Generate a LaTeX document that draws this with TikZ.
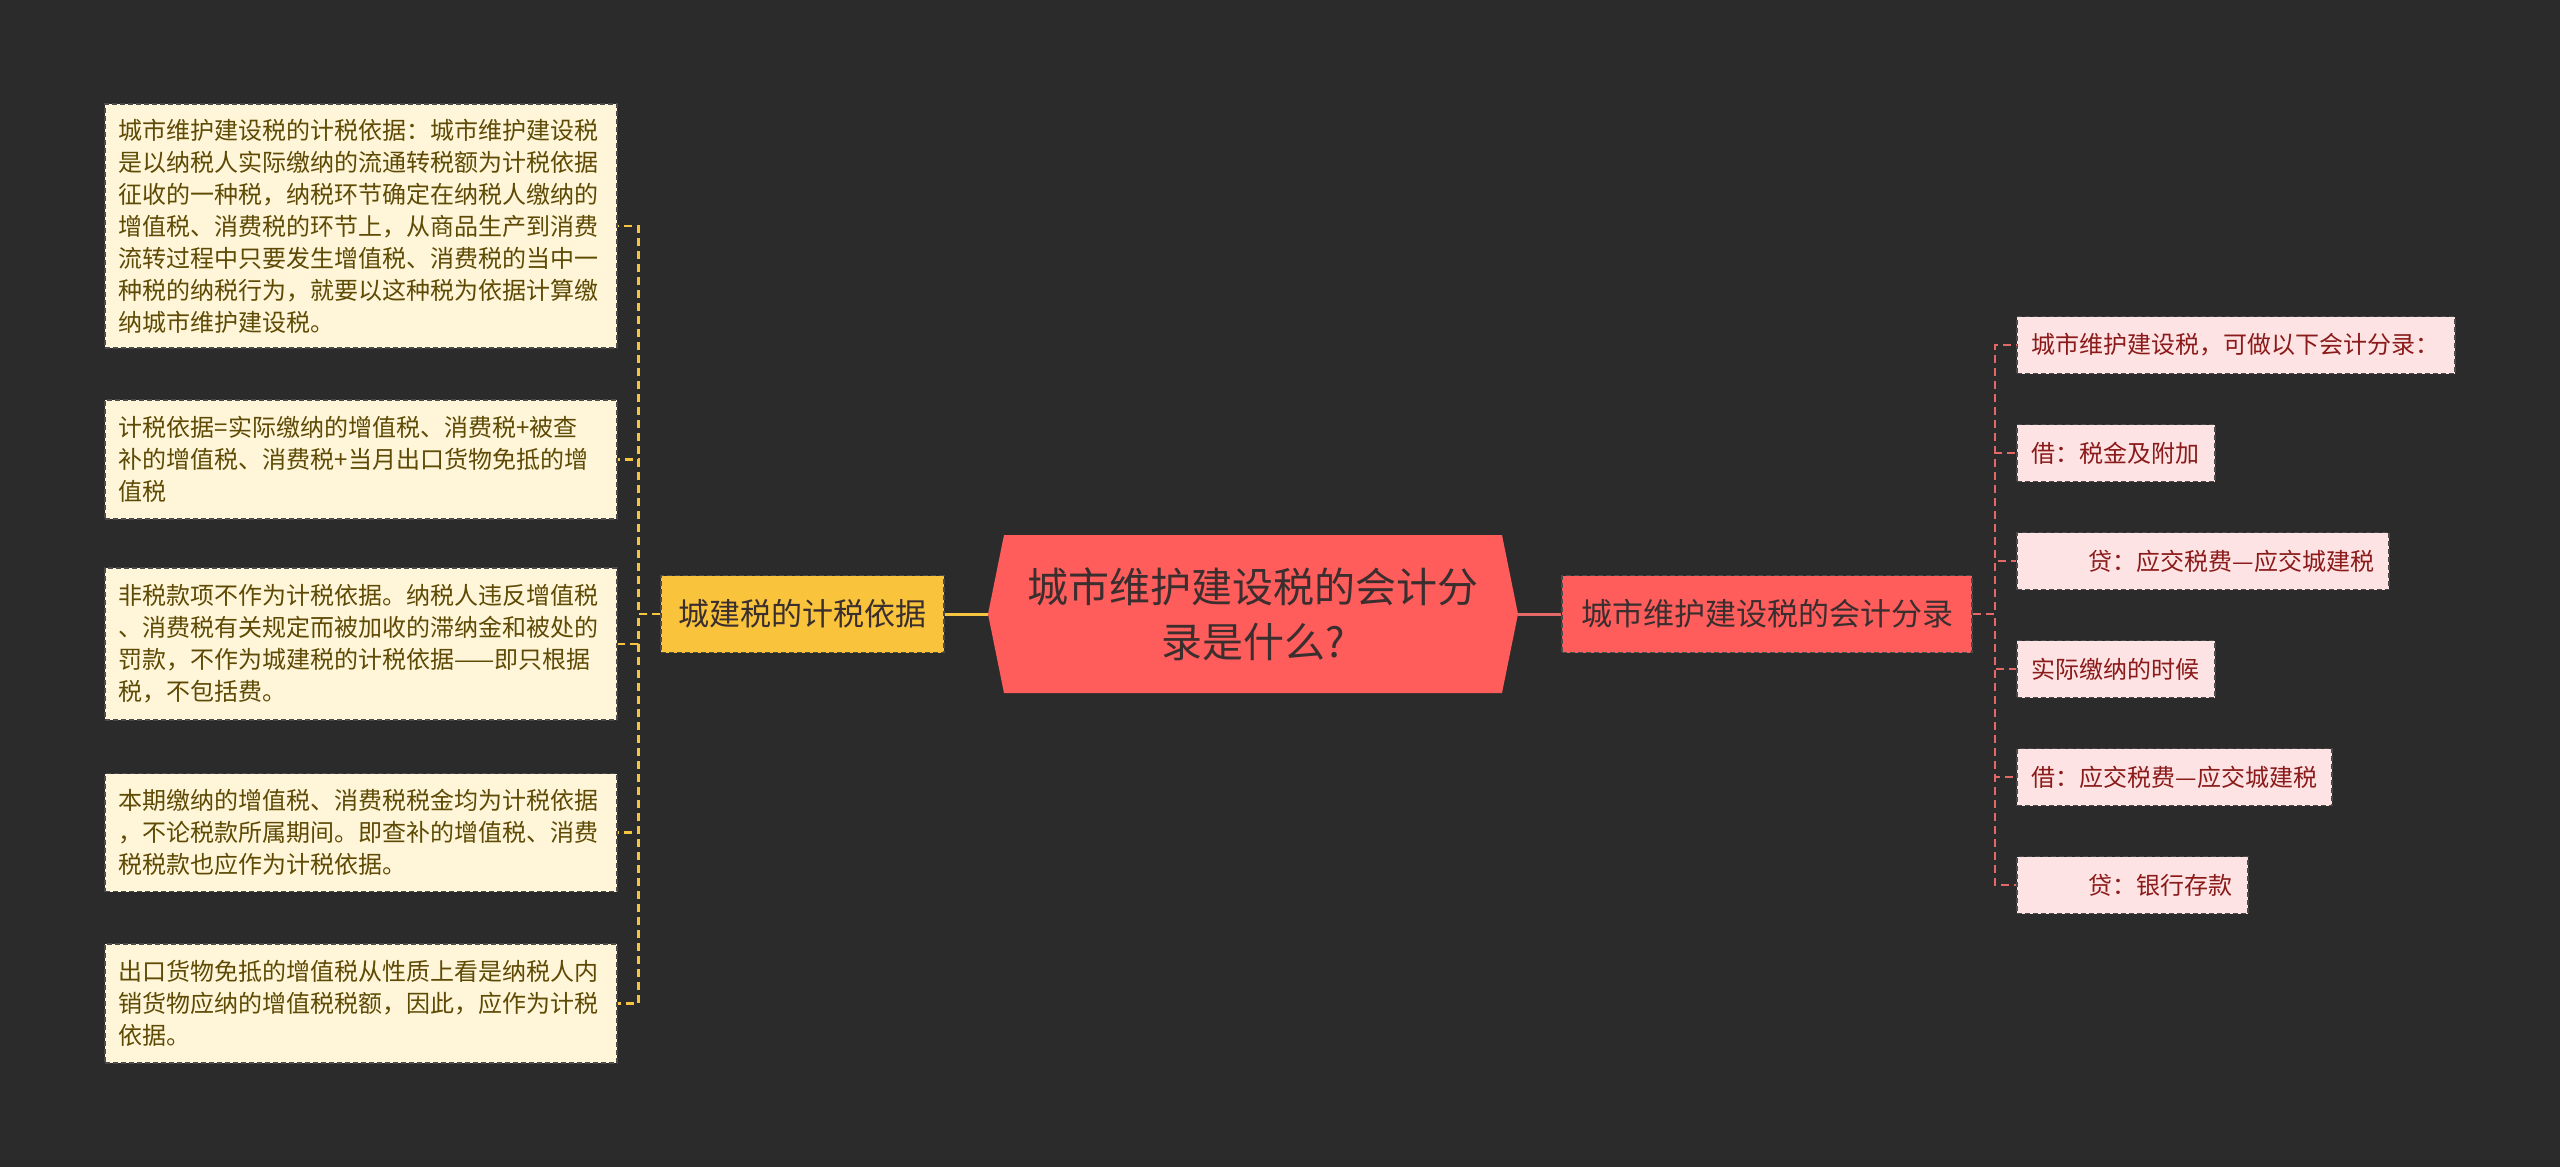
\documentclass[tikz,border=0pt]{standalone}
\usepackage{fontspec}
\setmainfont{Noto Sans CJK SC}
\usetikzlibrary{calc}
\definecolor{bg}{HTML}{2B2B2B}
\definecolor{lfill}{HTML}{FFF6D9}
\definecolor{ltext}{HTML}{5E4A05}
\definecolor{bord}{HTML}{4A4A4A}
\definecolor{yfill}{HTML}{F9C43C}
\definecolor{rfill}{HTML}{FF5C5C}
\definecolor{dtext}{HTML}{3A2E2E}
\definecolor{pfill}{HTML}{FDE3E3}
\definecolor{ptext}{HTML}{8B1A1A}
\definecolor{ylink}{HTML}{F5C542}
\definecolor{rlink}{HTML}{E36868}
\begin{document}
\begin{tikzpicture}[x=1pt,y=-1pt,
  leftbox/.style={draw=bord, fill=lfill, dash pattern=on 5pt off 3pt, line width=1.5pt,
    text=ltext, anchor=west, text width=484pt, align=left, inner xsep=14pt, inner ysep=0pt,
    font=\fontsize{24}{32}\selectfont},
  rightbox/.style={draw=bord, fill=pfill, dash pattern=on 5pt off 3pt, line width=1.5pt,
    text=ptext, anchor=west, inner xsep=15pt, inner ysep=0pt, minimum height=57pt,
    font=\fontsize{24}{32}\selectfont},
  mainbox/.style={draw=bord, dash pattern=on 5pt off 3pt, line width=1.5pt,
    text=dtext, inner sep=0pt, minimum height=77pt, font=\fontsize{31}{40}\selectfont},
  ydash/.style={draw=ylink, line width=2.5pt, dash pattern=on 8pt off 5pt},
  rdash/.style={draw=rlink, line width=2.5pt, dash pattern=on 8pt off 5pt},
  ysolid/.style={draw=ylink, line width=3pt},
  rsolid/.style={draw=rlink, line width=3pt}
]
\useasboundingbox (0,0) rectangle (2560,1167);
\fill[bg] (0,0) rectangle (2560,1167);

% central node
\fill[rfill] (1004,535) -- (1502,535) -- (1518,614) -- (1502,693) -- (1004,693) -- (988,614) -- cycle;
\node[minimum width=530pt, minimum height=158pt, inner sep=0pt, align=center,
  text=dtext, font=\fontsize{41}{55}\selectfont] (c) at (1253,614)
  {城市维护建设税的会计分\\录是什么?};

% level one
\node[mainbox, fill=yfill, minimum width=283pt] (yel) at (802.5,614) {城建税的计税依据};
\node[mainbox, fill=rfill, minimum width=410pt] (red) at (1767,614) {城市维护建设税的会计分录};

% left boxes
\node[leftbox, minimum height=244pt] (L1) at (104,226) {城市维护建设税的计税依据：城市维护建设税\\是以纳税人实际缴纳的流通转税额为计税依据\\征收的一种税，纳税环节确定在纳税人缴纳的\\增值税、消费税的环节上，从商品生产到消费\\流转过程中只要发生增值税、消费税的当中一\\种税的纳税行为，就要以这种税为依据计算缴\\纳城市维护建设税。};
\node[leftbox, minimum height=119pt] (L2) at (104,459.5) {计税依据=实际缴纳的增值税、消费税+被查\\补的增值税、消费税+当月出口货物免抵的增\\值税};
\node[leftbox, minimum height=152pt] (L3) at (104,644) {非税款项不作为计税依据。纳税人违反增值税\\、消费税有关规定而被加收的滞纳金和被处的\\罚款，不作为城建税的计税依据——即只根据\\税，不包括费。};
\node[leftbox, minimum height=118pt] (L4) at (104,832.5) {本期缴纳的增值税、消费税税金均为计税依据\\，不论税款所属期间。即查补的增值税、消费\\税税款也应作为计税依据。};
\node[leftbox, minimum height=119pt] (L5) at (104,1003.5) {出口货物免抵的增值税从性质上看是纳税人内\\销货物应纳的增值税税额，因此，应作为计税\\依据。};

% right boxes
\node[rightbox] (R1) at (2016,345) {城市维护建设税，可做以下会计分录：};
\node[rightbox] (R2) at (2016,453) {借：税金及附加};
\node[rightbox] (R3) at (2016,561) {\hspace*{57pt}贷：应交税费—应交城建税};
\node[rightbox] (R4) at (2016,669) {实际缴纳的时候};
\node[rightbox] (R5) at (2016,777) {借：应交税费—应交城建税};
\node[rightbox] (R6) at (2016,885) {\hspace*{57pt}贷：银行存款};

% connectors
\draw[ysolid] (c.west) -- (yel.east);
\draw[rsolid] (c.east) -- (red.west);
\foreach \b in {L1,L2,L3,L4,L5} \draw[ydash] (yel.west) -- ++(-22,0) |- (\b.east);
\foreach \b in {R1,R2,R3,R4,R5,R6} \draw[rdash] (red.east) -- ++(22,0) |- (\b.west);
\end{tikzpicture}
\end{document}
